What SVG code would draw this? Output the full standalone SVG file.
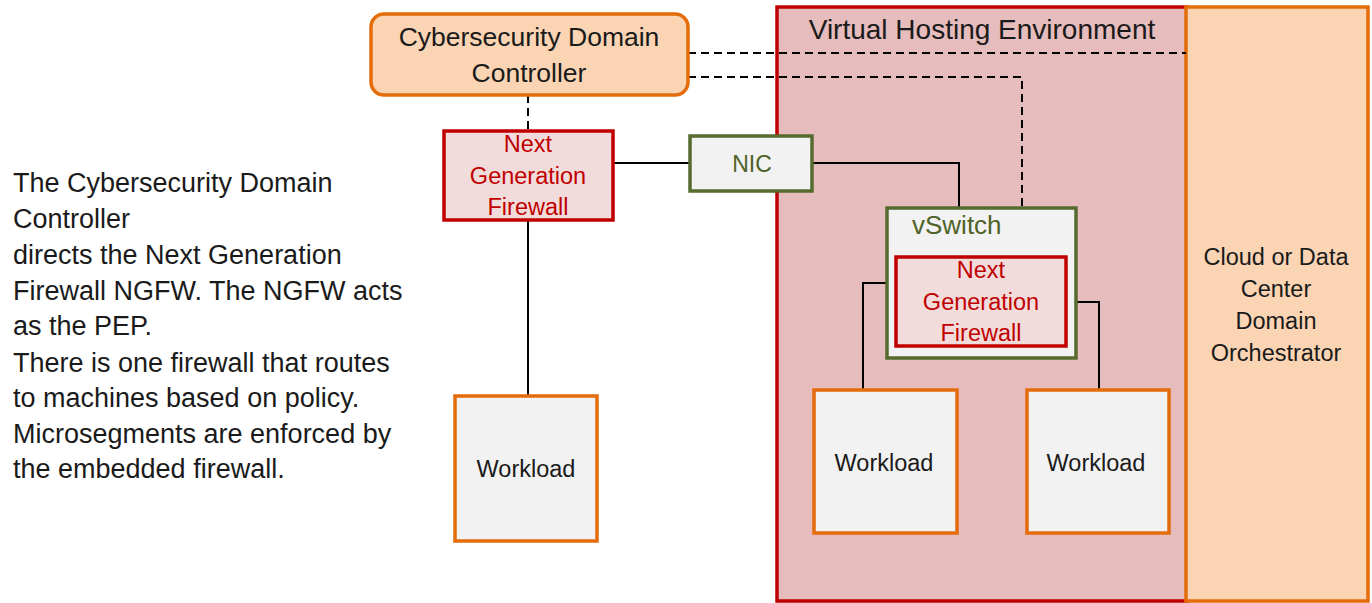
<svg xmlns="http://www.w3.org/2000/svg" width="1372" height="603" viewBox="0 0 1372 603">
<style>
text{font-family:"Liberation Sans",Arial,sans-serif;}
.t{fill:#1a1a1a;}
.red{fill:#C00000;}
.olive{fill:#4F6228;}
.wl{fill:#F2F2F2;stroke:#E46C0A;stroke-width:3.5;}
.fw{fill:#F2DCDB;stroke:#C00000;stroke-width:3.5;}
.sw{fill:#F2F2F2;stroke:#566B2E;stroke-width:3.5;}
.solid{fill:none;stroke:#000;stroke-width:2;}
.dash{fill:none;stroke:#000;stroke-width:2;stroke-dasharray:8,5;}
</style>
<rect width="1372" height="603" fill="#fff"/>
<g id="virtual-hosting">
<rect x="777" y="7" width="410" height="594" fill="#E6BCBC" stroke="#C00000" stroke-width="3.5"/>
<text class="t" x="982" y="39" font-size="28" text-anchor="middle">Virtual Hosting Environment</text>
</g>
<g id="orchestrator">
<rect x="1186" y="7" width="182" height="594" fill="#FBD4B4" stroke="#E46C0A" stroke-width="3.5"/>
<text class="t" font-size="23.5" text-anchor="middle"><tspan x="1276" y="265">Cloud or Data</tspan><tspan x="1276" y="297">Center</tspan><tspan x="1276" y="329">Domain</tspan><tspan x="1276" y="361">Orchestrator</tspan></text>
</g>
<g id="connectors">
<path class="dash" d="M688 53H1186"/>
<path class="dash" d="M688 77H1022V207"/>
<path class="dash" d="M528 95V130"/>
<path class="solid" d="M614 163H689"/>
<path class="solid" d="M812 163H959V207"/>
<path class="solid" d="M528 220V395"/>
<path class="solid" d="M886 283H863V389"/>
<path class="solid" d="M1067 302H1099V389"/>
</g>
<g id="controller">
<rect x="371" y="14" width="317" height="81" rx="13" fill="#FBD4B4" stroke="#E46C0A" stroke-width="3.5"/>
<text class="t" font-size="26.5" text-anchor="middle"><tspan x="529" y="46">Cybersecurity Domain</tspan><tspan x="529" y="82">Controller</tspan></text>
</g>
<g id="ngfw-left">
<rect class="fw" x="444" y="131" width="169" height="89"/>
<text class="red" font-size="23.5" text-anchor="middle"><tspan x="528" y="152">Next</tspan><tspan x="528" y="184">Generation</tspan><tspan x="528" y="215">Firewall</tspan></text>
</g>
<g id="nic">
<rect class="sw" x="690" y="136" width="122" height="55"/>
<text class="olive" x="752" y="172" font-size="23" text-anchor="middle">NIC</text>
</g>
<g id="vswitch">
<rect class="sw" x="887" y="208" width="189" height="150"/>
<text class="olive" x="912" y="234" font-size="26">vSwitch</text>
</g>
<g id="ngfw-embedded">
<rect class="fw" x="896" y="257" width="170" height="89"/>
<text class="red" font-size="23.5" text-anchor="middle"><tspan x="981" y="278">Next</tspan><tspan x="981" y="310">Generation</tspan><tspan x="981" y="341">Firewall</tspan></text>
</g>
<g id="workload-left">
<rect class="wl" x="455" y="396" width="142" height="145"/>
<text class="t" x="526" y="477" font-size="23.5" text-anchor="middle">Workload</text>
</g>
<g id="workload-mid">
<rect class="wl" x="814" y="390" width="143" height="143"/>
<text class="t" x="884" y="471" font-size="23.5" text-anchor="middle">Workload</text>
</g>
<g id="workload-right">
<rect class="wl" x="1027" y="390" width="142" height="143"/>
<text class="t" x="1096" y="471" font-size="23.5" text-anchor="middle">Workload</text>
</g>
<g id="description">
<text class="t" font-size="27"><tspan x="13" y="192">The Cybersecurity Domain</tspan><tspan x="13" y="228">Controller</tspan><tspan x="13" y="264">directs the Next Generation</tspan><tspan x="13" y="300">Firewall NGFW. The NGFW acts</tspan><tspan x="13" y="335">as the PEP.</tspan><tspan x="13" y="372">There is one firewall that routes</tspan><tspan x="13" y="407">to machines based on policy.</tspan><tspan x="13" y="443">Microsegments are enforced by</tspan><tspan x="13" y="478">the embedded firewall.</tspan></text>
</g>
</svg>
